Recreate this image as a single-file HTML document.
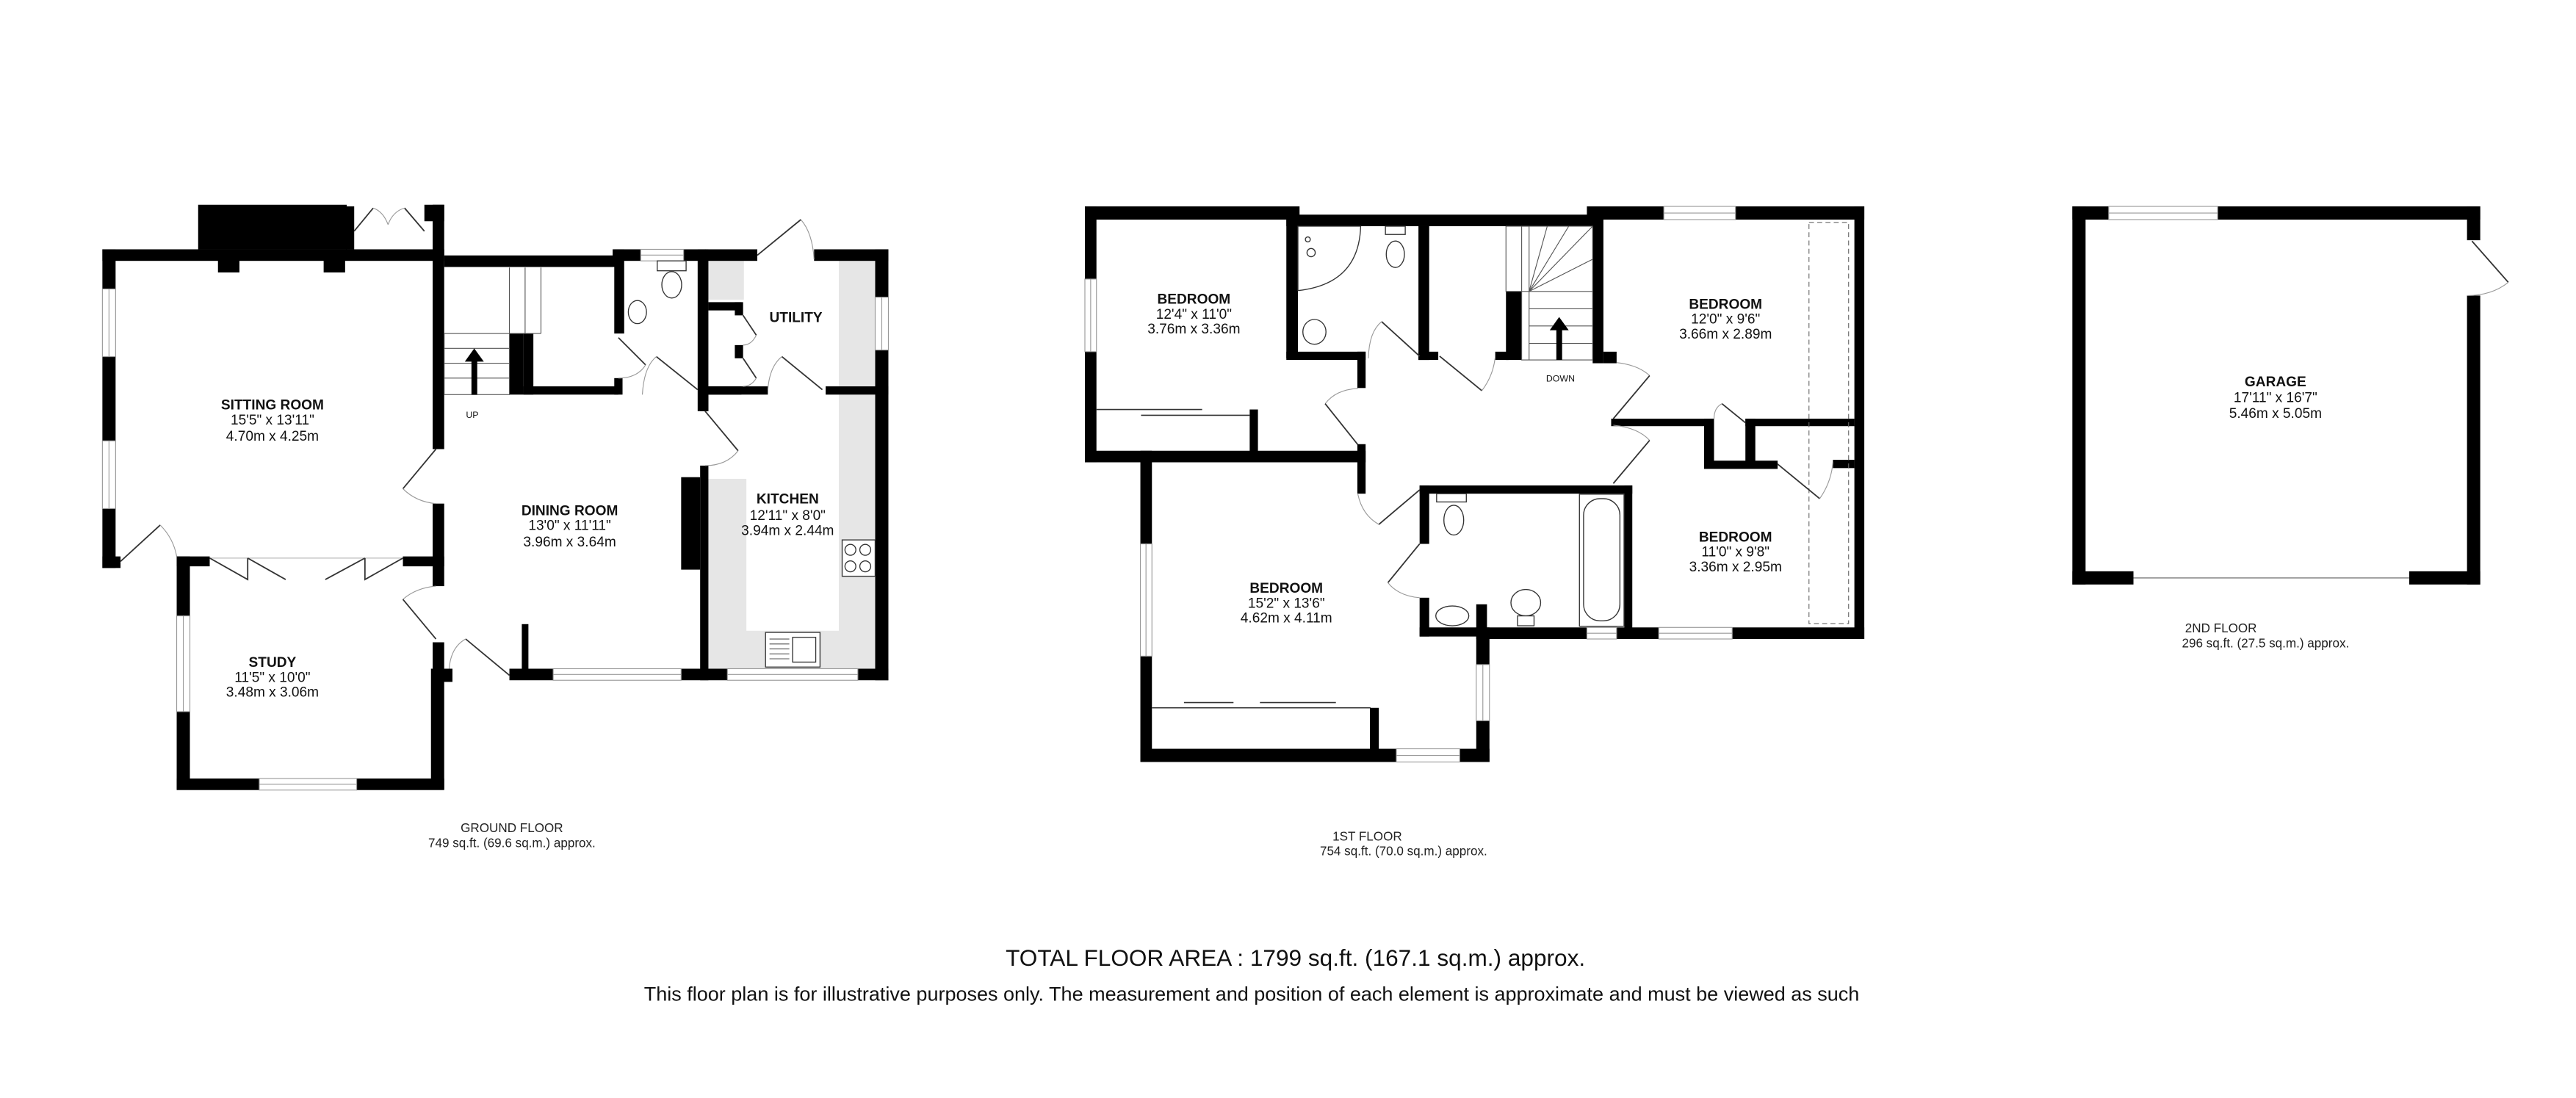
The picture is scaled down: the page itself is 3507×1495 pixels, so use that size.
<!DOCTYPE html>
<html><head><meta charset="utf-8"><style>
html,body{margin:0;padding:0;background:#fff}
svg{display:block}
text{font-family:"Liberation Sans",sans-serif;fill:#111}
.n{font-weight:bold;font-size:8.5px}
.d{font-size:8.5px}
.f{font-size:7.6px;fill:#222}
.w{fill:#fff;stroke:#999;stroke-width:0.5}
.dr{fill:none;stroke:#333;stroke-width:0.8}
.ar{fill:none;stroke:#999;stroke-width:0.5}
.fx{fill:#fff;stroke:#333;stroke-width:0.6}
.g{fill:#e6e6e6}
</style></head><body>
<svg width="3507" height="1495" viewBox="0 0 1560 665" preserveAspectRatio="none" xmlns="http://www.w3.org/2000/svg">
<rect width="1560" height="665" fill="#fff"/>

<!-- ================= GROUND FLOOR ================= -->
<rect class="g" x="429" y="158" width="21.5" height="23.5"/>
<rect class="g" x="508" y="158" width="22" height="76"/>
<rect class="g" x="508" y="239" width="22" height="166"/>
<rect class="g" x="429" y="382" width="101" height="23"/>
<rect class="g" x="429" y="290" width="23" height="115"/>
<g fill="#000">
<rect x="120" y="124" width="90" height="27"/>
<rect x="132" y="157" width="13" height="8"/>
<rect x="196" y="157" width="13" height="8"/>
<rect x="62" y="151" width="207" height="7"/>
<rect x="209.5" y="125" width="5" height="26"/>
<rect x="257" y="124" width="12" height="10"/>
<rect x="262" y="124" width="7" height="148"/>
<rect x="62" y="151" width="8" height="193"/>
<rect x="62" y="337" width="11" height="7"/>
<rect x="107" y="337" width="20" height="6"/>
<rect x="244" y="337" width="25" height="6"/>
<rect x="107" y="337" width="8" height="141"/>
<rect x="107" y="471.5" width="162" height="7"/>
<rect x="261" y="405" width="8" height="73"/>
<rect x="262" y="389" width="7" height="24"/>
<rect x="262" y="405" width="12" height="8"/>
<rect x="262" y="305" width="7" height="50"/>
<rect x="269" y="154.7" width="106" height="7"/>
<rect x="371" y="151" width="56.5" height="7"/>
<rect x="372" y="151" width="6" height="51"/>
<rect x="422.5" y="151" width="6.5" height="98"/>
<rect x="429" y="183" width="20" height="5"/>
<rect x="445" y="183" width="5" height="8"/>
<rect x="445" y="209" width="5" height="8"/>
<rect x="429" y="234" width="20" height="5"/>
<rect x="427" y="151" width="31.6" height="7"/>
<rect x="493" y="151" width="45" height="7"/>
<rect x="530" y="151" width="8" height="261"/>
<rect x="427" y="234" width="38" height="5"/>
<rect x="500" y="234" width="38" height="5"/>
<rect x="424" y="239" width="5" height="10"/>
<rect x="424" y="282" width="5" height="130"/>
<rect x="412.5" y="289" width="11.5" height="56"/>
<rect x="308.5" y="405" width="229.5" height="7"/>
<rect x="316" y="378" width="4" height="28"/>
<rect x="308.5" y="202" width="8.5" height="37"/>
<rect x="317" y="202" width="6" height="37"/>
<rect x="317" y="234" width="57.5" height="5"/>
<rect x="372" y="229" width="5" height="10"/>
</g>
<rect class="w" x="62" y="175" width="8" height="41"/><line x1="66" y1="175" x2="66" y2="216" stroke="#999" stroke-width="0.5"/>
<rect class="w" x="62" y="267" width="8" height="41"/><line x1="66" y1="267" x2="66" y2="308" stroke="#999" stroke-width="0.5"/>
<rect class="w" x="107" y="373" width="8" height="58"/><line x1="111" y1="373" x2="111" y2="431" stroke="#999" stroke-width="0.5"/>
<rect class="w" x="157" y="471.5" width="59" height="7"/><line x1="157" y1="475" x2="216" y2="475" stroke="#999" stroke-width="0.5"/>
<rect class="w" x="388" y="151" width="26" height="7"/><line x1="388" y1="154.5" x2="414" y2="154.5" stroke="#999" stroke-width="0.5"/>
<rect class="w" x="530" y="180" width="8" height="32"/><line x1="534" y1="180" x2="534" y2="212" stroke="#999" stroke-width="0.5"/>
<rect class="w" x="335" y="405" width="77.5" height="7"/><line x1="335" y1="408.5" x2="412.5" y2="408.5" stroke="#999" stroke-width="0.5"/>
<rect class="w" x="440.5" y="405" width="79" height="7"/><line x1="440.5" y1="408.5" x2="519.5" y2="408.5" stroke="#999" stroke-width="0.5"/>
<path class="dr" d="M214.5 140 L226 126 M257 140 L245 126"/>
<path class="ar" d="M226 126 Q232 128 235 136 M245 126 Q238 128 235 136"/>
<path class="dr" d="M73 340 L97 318"/><path class="ar" d="M97 318 Q105 326 107 337"/>
<line x1="127" y1="338" x2="244" y2="338" stroke="#bbb" stroke-width="0.6"/>
<path class="dr" d="M127 338 L150 351 L150 338 M150 338 L173 351 M221 338 L197 351 M221 338 L221 351 L244 338"/>
<path class="dr" d="M264 272 L244 296"/><path class="ar" d="M244 296 Q252 304 264 305"/>
<path class="ar" d="M264 355 Q252 356 244 363"/><path class="dr" d="M244 363 L264 387"/>
<path class="dr" d="M282 387 L308.5 409"/><path class="ar" d="M272 405 Q273 392 282 387"/>
<path class="dr" d="M458.6 154.6 L485 133"/><path class="ar" d="M485 133 Q492 141 493 157"/>
<path class="dr" d="M473.5 216 L498 236"/><path class="ar" d="M465 236 Q466 222 473.5 216"/>
<path class="dr" d="M427 249 L447 273"/><path class="ar" d="M447 273 Q440 282 427 282"/>
<path class="dr" d="M374.5 204.5 L391 221"/><path class="ar" d="M391 221 Q386 229 374.5 229"/>
<path class="dr" d="M397.5 216 L422.5 236"/><path class="ar" d="M389 239 Q390 222 397.5 216"/>
<path class="dr" d="M450 191 L458 203"/><path class="ar" d="M458 203 Q455 209 450 209"/>
<path class="dr" d="M450 217 L458 229"/><path class="ar" d="M458 229 Q455 234 450 234"/>
<rect x="269" y="202" width="39.5" height="37" fill="#fff" stroke="#555" stroke-width="0.5"/>
<path d="M269 211 H308.5 M269 220 H308.5 M269 229 H308.5" stroke="#555" stroke-width="0.5"/>
<path d="M308.5 162 V202 M318 162 V202 M327.6 162 V202 M308.5 202 H327.6" stroke="#555" stroke-width="0.5" fill="none"/>
<rect x="285.5" y="218" width="3.5" height="21" fill="#000"/>
<polygon points="281.5,219 287.2,211 293,219" fill="#000"/>
<rect class="fx" x="398" y="158" width="17.5" height="6"/>
<ellipse class="fx" cx="406.8" cy="172.5" rx="6" ry="8"/>
<ellipse class="fx" cx="386" cy="189" rx="5.5" ry="7"/>
<rect class="fx" x="510" y="327" width="20" height="22"/>
<circle class="fx" cx="515" cy="333" r="3.3"/><circle class="fx" cx="524" cy="333" r="3.3"/>
<circle class="fx" cx="515" cy="343" r="3.3"/><circle class="fx" cx="524" cy="343" r="3.3"/>
<rect class="fx" x="463.6" y="383" width="33" height="21"/>
<path d="M466 387 H478 M466 390 H478 M466 393 H478 M466 396 H478 M466 399 H478" stroke="#555" stroke-width="0.5"/>
<rect class="fx" x="480" y="386" width="14" height="15"/>
<text class="n" x="165" y="248" text-anchor="middle">SITTING ROOM</text>
<text class="d" x="165" y="257" text-anchor="middle">15'5"  x 13'11"</text>
<text class="d" x="165" y="267" text-anchor="middle">4.70m  x 4.25m</text>
<text class="n" x="165" y="404" text-anchor="middle">STUDY</text>
<text class="d" x="165" y="413" text-anchor="middle">11'5"  x 10'0"</text>
<text class="d" x="165" y="422" text-anchor="middle">3.48m  x 3.06m</text>
<text class="n" x="345" y="312" text-anchor="middle">DINING ROOM</text>
<text class="d" x="345" y="321" text-anchor="middle">13'0"  x 11'11"</text>
<text class="d" x="345" y="331" text-anchor="middle">3.96m  x 3.64m</text>
<text class="n" x="477" y="305" text-anchor="middle">KITCHEN</text>
<text class="d" x="477" y="315" text-anchor="middle">12'11"  x 8'0"</text>
<text class="d" x="477" y="324" text-anchor="middle">3.94m  x 2.44m</text>
<text class="n" x="482" y="195" text-anchor="middle">UTILITY</text>
<text x="286" y="253" text-anchor="middle" style="font-size:5.5px">UP</text>
<text class="f" x="310" y="504" text-anchor="middle">GROUND FLOOR</text>
<text class="f" x="310" y="513" text-anchor="middle">749 sq.ft. (69.6 sq.m.) approx.</text>

<!-- ================= 1ST FLOOR ================= -->
<g transform="translate(-3,0)">
<g fill="#000">
<rect x="660" y="125" width="130" height="8"/>
<rect x="660" y="125" width="7" height="155"/>
<rect x="782" y="130" width="186" height="7"/>
<rect x="782" y="130" width="7" height="87"/>
<rect x="782" y="213" width="48" height="5"/>
<rect x="825" y="213" width="5" height="22"/>
<rect x="862" y="137" width="6.5" height="81"/>
<rect x="862" y="213" width="12" height="5"/>
<rect x="908.5" y="213" width="8" height="5"/>
<rect x="915" y="176.5" width="9.5" height="41.5"/>
<rect x="964" y="125" width="168" height="8"/>
<rect x="1126" y="125" width="6" height="262"/>
<rect x="967.5" y="133" width="6.5" height="87"/>
<rect x="974" y="213" width="8" height="7"/>
<rect x="978.7" y="253.6" width="62.3" height="4.5"/>
<rect x="1060" y="253.6" width="66" height="4.5"/>
<rect x="1035" y="253.6" width="6" height="30"/>
<rect x="1035" y="279" width="44.5" height="5"/>
<rect x="1060" y="253.6" width="6" height="27"/>
<rect x="1113" y="278.5" width="13" height="5"/>
<rect x="660" y="273" width="170" height="7"/>
<rect x="759.8" y="248" width="5" height="27"/>
<rect x="693.6" y="273" width="7" height="188.5"/>
<rect x="693.6" y="453.5" width="211.4" height="8"/>
<rect x="897" y="380" width="8" height="81.5"/>
<rect x="825" y="269" width="5" height="30"/>
<rect x="832.6" y="428.7" width="5.4" height="25"/>
<rect x="862.7" y="294" width="128.8" height="5"/>
<rect x="862.7" y="294" width="5.8" height="35.4"/>
<rect x="862.7" y="362" width="5.8" height="23.5"/>
<rect x="862.7" y="380" width="36" height="5.5"/>
<rect x="986.7" y="294" width="4.8" height="91.5"/>
<rect x="897" y="366" width="6.5" height="16"/>
<rect x="897" y="380" width="235" height="7"/>
</g>
<rect class="w" x="660" y="169" width="7" height="44"/><line x1="663.5" y1="169" x2="663.5" y2="213" stroke="#999" stroke-width="0.5"/>
<rect class="w" x="1010.6" y="125" width="43.4" height="8"/><line x1="1010.6" y1="129" x2="1054" y2="129" stroke="#999" stroke-width="0.5"/>
<rect class="w" x="693.6" y="329.4" width="7" height="68"/><line x1="697" y1="329.4" x2="697" y2="397.4" stroke="#999" stroke-width="0.5"/>
<rect class="w" x="848.6" y="453.5" width="38.4" height="8"/><line x1="848.6" y1="457.5" x2="887" y2="457.5" stroke="#999" stroke-width="0.5"/>
<rect class="w" x="897" y="402.5" width="8" height="34"/><line x1="901" y1="402.5" x2="901" y2="436.5" stroke="#999" stroke-width="0.5"/>
<rect class="w" x="964" y="380" width="18" height="7"/><line x1="964" y1="383.5" x2="982" y2="383.5" stroke="#999" stroke-width="0.5"/>
<rect class="w" x="1007.5" y="380" width="44.5" height="7"/><line x1="1007.5" y1="383.5" x2="1052" y2="383.5" stroke="#999" stroke-width="0.5"/>
<path d="M667 248 H731 M694 251.5 H760" stroke="#333" stroke-width="0.7"/>
<path d="M700.6 428.7 H833 M720 425.5 H750 M766 425.5 H812" stroke="#333" stroke-width="0.7"/>
<rect x="1098.5" y="134.7" width="24" height="243" fill="none" stroke="#666" stroke-width="0.5" stroke-dasharray="3,2"/>
<path class="ar" d="M982 219.6 Q995 221 1002 227.5"/><path class="dr" d="M1002 227.5 L980 253.6"/>
<path class="ar" d="M980 257.5 Q995 259 1002 266.7"/><path class="dr" d="M1002 266.7 L980 292.8"/>
<path class="dr" d="M839.7 194.8 L862.7 215.7"/><path class="ar" d="M831.7 217 Q832 201 839.7 194.8"/>
<path class="dr" d="M874.8 215.7 L900.4 236.6"/><path class="ar" d="M900.4 236.6 Q907 228 908.4 217"/>
<path class="ar" d="M825.3 235.3 Q812 236 805.5 244.5"/><path class="dr" d="M805.5 244.5 L825.3 269.3"/>
<path class="ar" d="M825.3 299.3 Q828 312 838 317.6"/><path class="dr" d="M838 317.6 L862.7 296.7"/>
<path class="dr" d="M843.5 352.9 L862.7 329.4"/><path class="ar" d="M843.5 352.9 Q850 361 862.7 362"/>
<path class="dr" d="M1045.8 244.5 L1060 256"/><path class="ar" d="M1041 253.6 Q1041 247 1045.8 244.5"/>
<path class="dr" d="M1079.4 281 L1105 302"/><path class="ar" d="M1105 302 Q1112 292 1113 280"/>
<rect x="915" y="137" width="14" height="39.5" fill="#fff" stroke="#555" stroke-width="0.5"/>
<rect x="924.5" y="137" width="43" height="81" fill="none" stroke="#555" stroke-width="0.5"/>
<path d="M929 176.5 L940 137 M929 176.5 L953 137 M929 176.5 L967.5 137 M929 176.5 L967.5 157 M929 176.5 H967.5 M929 187 H967.5 M929 197.4 H967.5 M929 208 H967.5 M929 176.5 V218" stroke="#555" stroke-width="0.5" fill="none"/>
<rect x="945.5" y="199" width="3.5" height="19" fill="#000"/>
<polygon points="941.5,200 947.2,192 953,200" fill="#000"/>
<path class="fx" d="M789 137 H827 Q826 172 789 176 Z"/>
<circle class="fx" cx="795" cy="145" r="1.5"/><circle class="fx" cx="797" cy="153" r="2.5"/>
<rect class="fx" x="842" y="137" width="12" height="5"/>
<ellipse class="fx" cx="848" cy="154" rx="5.5" ry="8"/>
<ellipse class="fx" cx="799" cy="201" rx="7" ry="7.5"/>
<rect class="fx" x="959.5" y="299.3" width="27" height="80"/>
<rect class="fx" x="962" y="302" width="22" height="74" rx="10"/>
<rect class="fx" x="873" y="299" width="18" height="5"/>
<ellipse class="fx" cx="883.4" cy="315" rx="6" ry="9"/>
<ellipse class="fx" cx="882.5" cy="373" rx="10" ry="6"/>
<ellipse class="fx" cx="927" cy="365" rx="9" ry="8"/>
<rect class="fx" x="922" y="373" width="10" height="6"/>
<text class="n" x="726" y="184" text-anchor="middle">BEDROOM</text>
<text class="d" x="726" y="193" text-anchor="middle">12'4"  x 11'0"</text>
<text class="d" x="726" y="202" text-anchor="middle">3.76m  x 3.36m</text>
<text class="n" x="1048" y="187" text-anchor="middle">BEDROOM</text>
<text class="d" x="1048" y="196" text-anchor="middle">12'0"  x 9'6"</text>
<text class="d" x="1048" y="205" text-anchor="middle">3.66m  x 2.89m</text>
<text class="n" x="782" y="359" text-anchor="middle">BEDROOM</text>
<text class="d" x="782" y="368" text-anchor="middle">15'2"  x 13'6"</text>
<text class="d" x="782" y="377" text-anchor="middle">4.62m  x 4.11m</text>
<text class="n" x="1054" y="328" text-anchor="middle">BEDROOM</text>
<text class="d" x="1054" y="337" text-anchor="middle">11'0"  x 9'8"</text>
<text class="d" x="1054" y="346" text-anchor="middle">3.36m  x 2.95m</text>
<text x="948" y="231" text-anchor="middle" style="font-size:5.5px">DOWN</text>
<text class="f" x="831" y="509" text-anchor="middle">1ST FLOOR</text>
<text class="f" x="853" y="518" text-anchor="middle">754 sq.ft. (70.0 sq.m.) approx.</text>
</g>

<!-- ================= GARAGE ================= -->
<g transform="translate(-3,0)">
<g fill="#000">
<rect x="1258" y="125" width="247" height="8"/>
<rect x="1258" y="125" width="8" height="229"/>
<rect x="1497" y="125" width="8" height="20.5"/>
<rect x="1497" y="179" width="8" height="175"/>
<rect x="1258" y="346" width="37" height="8"/>
<rect x="1462" y="346" width="43" height="8"/>
</g>
<rect class="w" x="1280" y="125" width="66" height="8"/><line x1="1280" y1="129" x2="1346" y2="129" stroke="#999" stroke-width="0.5"/>
<line x1="1295" y1="350" x2="1462" y2="350" stroke="#999" stroke-width="0.8"/>
<path class="dr" d="M1500 146 L1522 171"/><path class="ar" d="M1522 171 Q1512 179 1497 179"/>
<text class="n" x="1381" y="234" text-anchor="middle">GARAGE</text>
<text class="d" x="1381" y="243.5" text-anchor="middle">17'11"  x 16'7"</text>
<text class="d" x="1381" y="253" text-anchor="middle">5.46m  x 5.05m</text>
<text class="f" x="1348" y="383" text-anchor="middle">2ND FLOOR</text>
<text class="f" x="1375" y="392" text-anchor="middle">296 sq.ft. (27.5 sq.m.) approx.</text>
</g>

<text x="609" y="585" textLength="351" lengthAdjust="spacingAndGlyphs" style="font-size:14px">TOTAL FLOOR AREA : 1799 sq.ft. (167.1 sq.m.) approx.</text>
<text x="390" y="606" textLength="736" lengthAdjust="spacingAndGlyphs" style="font-size:12px">This floor plan is for illustrative purposes only. The measurement and position of each element is approximate and must be viewed as such</text>
</svg>
</body></html>
